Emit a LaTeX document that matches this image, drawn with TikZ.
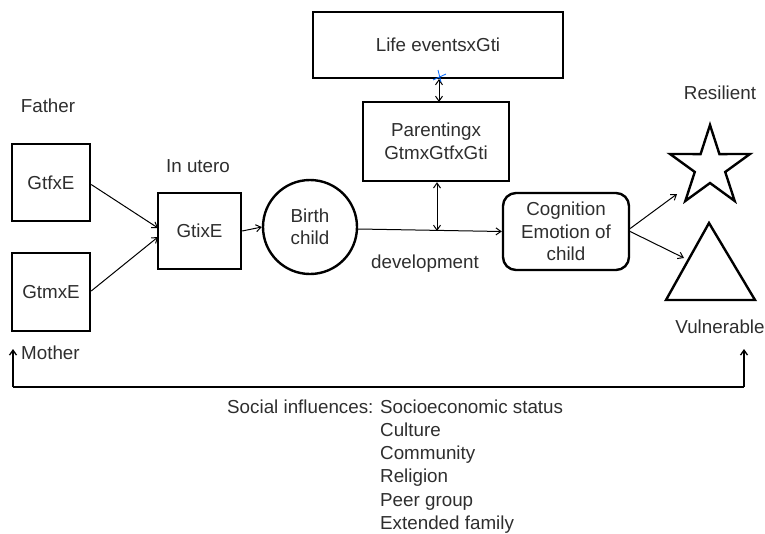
\documentclass[tikz,border=0pt]{standalone}
\usepackage{fontspec}
\setmainfont{Liberation Sans}
\usetikzlibrary{arrows.meta}
\begin{document}
\begin{tikzpicture}[x=1pt,y=-1pt,
  every node/.style={font=\fontsize{18.8}{22.5}\selectfont, text=black!82, inner sep=0pt},
  boxnode/.style={draw=black, line width=2.4pt, align=center},
  lbl/.style={anchor=base},
  conn/.style={line width=1pt, -{Straight Barb[length=5pt,width=7pt]}},
  dconn/.style={line width=1pt, {Straight Barb[length=5pt,width=7pt]}-{Straight Barb[length=5pt,width=7pt]}},
  shapeline/.style={draw=black, line width=2.4pt, line join=miter}]
\useasboundingbox (0,0) rectangle (765,533);

% labels
\node[lbl] (father) at (48,112) {Father};
\node[lbl] (inutero) at (198,172) {In utero};
\node[lbl, anchor=base west] (mother) at (21,359) {Mother};
\node[lbl] (resilient) at (720,99) {Resilient};
\node[lbl] (vulnerable) at (720,333) {Vulnerable};
\node[lbl] (devel) at (425,268) {development};

% boxes
\node[boxnode, minimum width=78pt, minimum height=77pt] (gtf) at (51,182.5) {GtfxE};
\node[boxnode, minimum width=78pt, minimum height=78pt] (gtm) at (51,292) {GtmxE};
\node[boxnode, minimum width=83pt, minimum height=76pt] (gti) at (199.5,231) {GtixE};
\node[draw=black, line width=2.4pt, circle, minimum size=94pt, align=center] (birth) at (310,227) {Birth\\child};
\node[boxnode, minimum width=250pt, minimum height=66pt] (life) at (438,45) {Life eventsxGti};
\node[boxnode, minimum width=146pt, minimum height=79pt] (parent) at (436,141.5) {Parentingx\\GtmxGtfxGti};
\node[boxnode, rounded corners=13pt, minimum width=126pt, minimum height=77pt] (cog) at (566,231.5) {Cognition\\Emotion of\\child};

% star and triangle
\coordinate (starc) at (710,167);
\draw[shapeline] (starc) +(-90:42) -- +(-54:16) -- +(-18:42) -- +(18:16) -- +(54:42)
  -- +(90:16) -- +(126:42) -- +(162:16) -- +(198:42) -- +(234:16) -- cycle;
\draw[shapeline] (709,223) -- (755,300) -- (666,300) -- cycle;
\coordinate (starin) at (677,194);
\coordinate (triin) at (684,258);

% connectors
\coordinate (gtiinA) at (158,228);
\coordinate (gtiinB) at (158,237);
\coordinate (lineMid) at (437,231);
\coordinate (lifeB) at (439,79);
\coordinate (parT) at (439,102);
\draw[conn] (gtf.east) ++(0,2) -- (gtiinA);
\draw[conn] (gtm.east) ++(0,-1) -- (gtiinB);
\draw[conn] (gti.east) -- (birth.west);
\draw[conn] (birth.east) ++(0,2) -- (cog.west);
\draw[dconn] (parent.south -| lineMid) -- (lineMid);
\draw[dconn] (lifeB) -- (parT);
\draw[conn] (cog.east) ++(0,-3) -- (starin);
\draw[conn] (cog.east) -- (triin);

% blue mark
\draw[blue!60!cyan, line width=0.8pt] (438,70) -- (441,82);
\draw[blue!60!cyan, line width=0.8pt] (433,80) -- (446,74);

% social influences bracket
\coordinate (bl) at (13,387);
\coordinate (br) at (744,387);
\coordinate (blt) at (13,349);
\coordinate (brt) at (744,349);
\draw[line width=2pt] (bl) -- (br);
\draw[line width=1.3pt, -{Straight Barb[length=5pt,width=7pt]}] (bl) -- (blt);
\draw[line width=1.3pt, -{Straight Barb[length=5pt,width=7pt]}] (br) -- (brt);

\node[lbl, anchor=base west] (social) at (227,413) {Social influences:};
\node[lbl, anchor=base west] (s1) at (380,413) {Socioeconomic status};
\node[lbl, anchor=base west] (s2) at (380,436) {Culture};
\node[lbl, anchor=base west] (s3) at (380,459.5) {Community};
\node[lbl, anchor=base west] (s4) at (380,482.5) {Religion};
\node[lbl, anchor=base west] (s5) at (380,506) {Peer group};
\node[lbl, anchor=base west] (s6) at (380,529) {Extended family};
\end{tikzpicture}
\end{document}
